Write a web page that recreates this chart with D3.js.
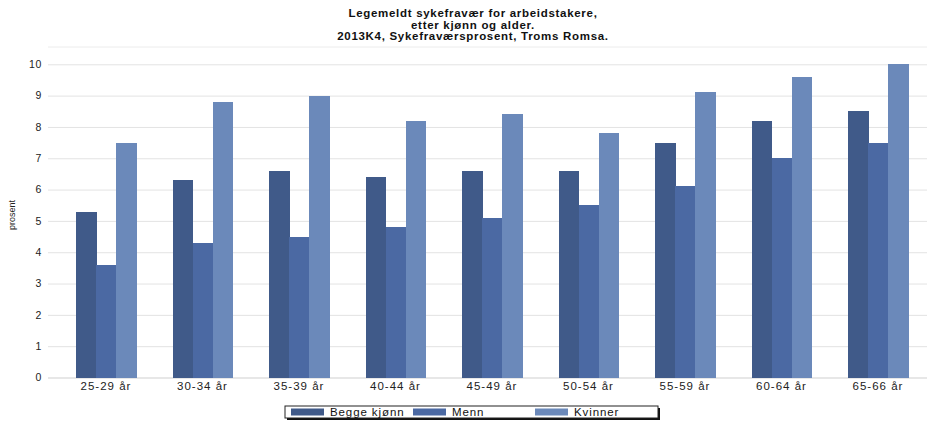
<!DOCTYPE html>
<html>
<head>
<meta charset="utf-8">
<script src="https://cdn.jsdelivr.net/npm/d3@7"></script>
<style>
  html, body { margin: 0; padding: 0; background: #fff; }
  svg { display: block; font-family: Arial, "Liberation Sans", sans-serif; }
</style>
</head>
<body>
<svg id="chart" width="927" height="421"></svg>
<script>
// Age groups and sick-leave percentages per series
const categories = ["25-29 år", "30-34 år", "35-39 år", "40-44 år", "45-49 år",
                    "50-54 år", "55-59 år", "60-64 år", "65-66 år"];
const seriesNames = ["Begge kjønn", "Menn", "Kvinner"];
const beggeKjonn = [5.3, 6.3, 6.6, 6.4, 6.6, 6.6, 7.5, 8.2, 8.5];
const menn       = [3.6, 4.3, 4.5, 4.8, 5.1, 5.5, 6.1, 7.0, 7.5];
const kvinner    = [7.5, 8.8, 9.0, 8.2, 8.4, 7.8, 9.1, 9.6, 10.0];
const yTicks = [0, 1, 2, 3, 4, 5, 6, 7, 8, 9, 10];
const titleLines = ["Legemeldt sykefravær for arbeidstakere,",
                    "etter kjønn og alder.",
                    "2013K4, Sykefraværsprosent, Troms Romsa."];
const yLabel = "prosent";

const colors = ["#405a89", "#4b69a3", "#6b89ba"];
const seriesValues = [beggeKjonn, menn, kvinner];

const svg = d3.select("#chart");
const plotLeft = 48, plotRight = 927, plotTop = 47, plotBottom = 377.5;

const y = d3.scaleLinear().domain([0, 10]).range([plotBottom, 64.3]);

// groups span ~96.5px each, bars 20px wide
const x0 = d3.scaleBand().domain(categories)
  .range([57.75, 57.75 + 9 * 96.5])
  .paddingInner(36.5 / 96.5).paddingOuter(36.5 / 96.5 / 2);
const x1 = d3.scaleBand().domain(seriesNames).range([0, x0.bandwidth()]);

// title
svg.append("g").selectAll("text").data(titleLines).join("text")
  .attr("x", 473).attr("y", (d, i) => 17 + i * 11.5)
  .attr("text-anchor", "middle")
  .attr("font-size", 11.5).attr("font-weight", "bold").attr("fill", "#111")
  .attr("letter-spacing", "0.7px")
  .text(d => d);

// top border of plot area
svg.append("line").attr("x1", plotLeft).attr("x2", plotRight)
  .attr("y1", plotTop).attr("y2", plotTop).attr("stroke", "#ececec");

// gridlines + y axis labels
const yAxis = d3.axisLeft(y).tickValues(yTicks).tickSize(-(plotRight - plotLeft)).tickPadding(6);
const gy = svg.append("g").attr("transform", `translate(${plotLeft},0)`).call(yAxis);
gy.select(".domain").remove();
gy.selectAll(".tick line").attr("stroke", d => d === 0 ? "#cfcfcf" : "#e3e3e3");
gy.selectAll(".tick text").attr("font-size", 10.5).attr("fill", "#222")
  .attr("font-family", "Arial, 'Liberation Sans', sans-serif").attr("letter-spacing", "0.6px");

// y axis title
svg.append("text").attr("transform", "translate(15,215) rotate(-90)")
  .attr("text-anchor", "middle").attr("font-size", 9).attr("fill", "#222").text(yLabel);

// bars
const groups = svg.append("g").attr("shape-rendering", "crispEdges")
  .selectAll("g").data(categories).join("g")
  .attr("transform", d => `translate(${x0(d)},0)`);
groups.selectAll("rect")
  .data((c, i) => seriesNames.map((s, j) => ({ s, j, v: seriesValues[j][i] })))
  .join("rect")
  .attr("x", d => x1(d.s)).attr("width", x1.bandwidth() + 0.5)
  .attr("y", d => y(d.v)).attr("height", d => y(0) - y(d.v))
  .attr("fill", d => colors[d.j]);

// x axis labels
const xAxis = d3.axisBottom(x0).tickSize(0).tickPadding(4);
const gx = svg.append("g").attr("transform", `translate(0,${plotBottom})`).call(xAxis);
gx.select(".domain").remove();
gx.selectAll(".tick text").attr("font-size", 11.5).attr("fill", "#222")
  .attr("font-family", "Arial, 'Liberation Sans', sans-serif").attr("letter-spacing", "1px");

// legend
const legend = svg.append("g");
legend.append("rect").attr("x", 287).attr("y", 408).attr("width", 373).attr("height", 12).attr("fill", "#111");
legend.append("rect").attr("x", 285).attr("y", 406).attr("width", 373).attr("height", 12)
  .attr("fill", "#fff").attr("stroke", "#222").attr("stroke-width", 1);
const legendX = [291, 413, 535];
const items = legend.selectAll("g.item").data(seriesNames).join("g").attr("class", "item")
  .attr("transform", (d, i) => `translate(${legendX[i]},0)`);
items.append("rect").attr("x", 0).attr("y", 408.5).attr("width", 33).attr("height", 7)
  .attr("fill", (d, i) => colors[i]);
items.append("text").attr("x", 39).attr("y", 416).attr("font-size", 11.5).attr("fill", "#111")
  .attr("letter-spacing", "0.9px").text(d => d);
</script>
</body>
</html>
